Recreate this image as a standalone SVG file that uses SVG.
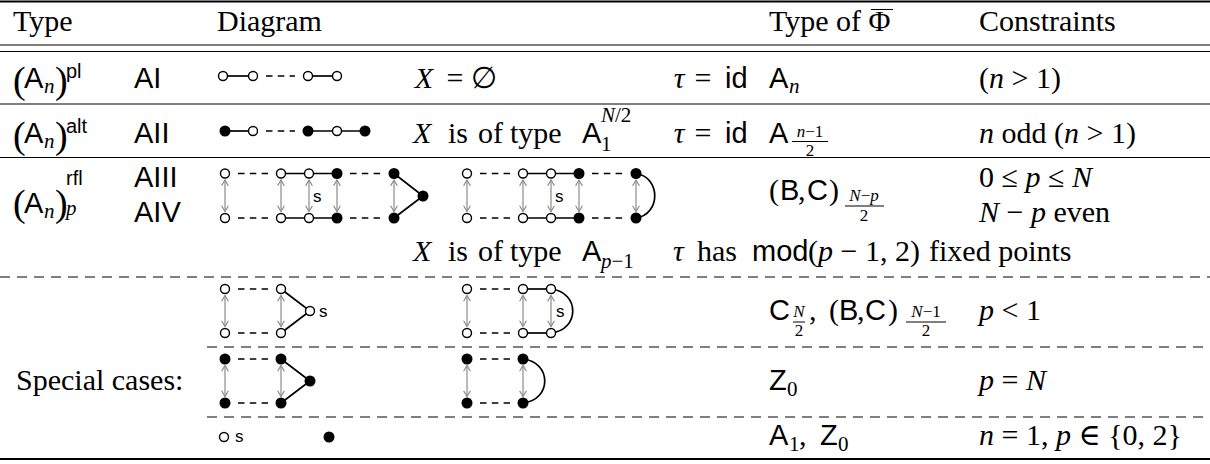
<svg xmlns="http://www.w3.org/2000/svg" width="1210" height="464" viewBox="0 0 1210 464">
<defs>
<marker id="ah" markerUnits="userSpaceOnUse" viewBox="0 0 7 8" refX="6.4" refY="4" markerWidth="7" markerHeight="8" orient="auto-start-reverse"><path d="M0.6,0.6 L6.4,4 L0.6,7.4" fill="none" stroke="#8c8c8c" stroke-width="1.2"/></marker>
<style>
.rm{font-family:"Liberation Serif","DejaVu Serif",serif;font-size:30px;fill:#000}
.i{font-style:italic}
.sf{font-family:"Liberation Sans",sans-serif;font-size:29px;fill:#000}
.big{font-family:"Liberation Serif",serif;font-size:38px;fill:#000}
.sup{font-family:"Liberation Sans",sans-serif;font-size:20px;fill:#000}
.sub{font-family:"Liberation Serif",serif;font-size:21px;fill:#000}
.fr{font-family:"Liberation Serif",serif;font-size:17px;text-anchor:middle;fill:#000}
.lb{font-family:"Liberation Sans",sans-serif;font-size:17px;fill:#000}
.mid{text-anchor:middle}
.rule{stroke:#000;stroke-width:1.2;fill:none}
.thick{stroke:#000;stroke-width:1.8;fill:none}
.hd{stroke:#000;stroke-width:1.2;stroke-dasharray:10 7;fill:none}
.fb{stroke:#000;stroke-width:1}
.e{stroke:#000;stroke-width:1.7;fill:none}
.d{stroke:#000;stroke-width:1.7;stroke-dasharray:6.5 5.3;fill:none}
.a{stroke:#8c8c8c;stroke-width:1.2;marker-start:url(#ah);marker-end:url(#ah)}
.o{fill:#fff;stroke:#000;stroke-width:1.4}
.f{fill:#000;stroke:none}
</style>
</defs>
<rect width="1210" height="464" fill="#fff"/>

<g id="rules">
<line class="thick" x1="0" y1="1.5" x2="1210" y2="1.5"/>
<line class="rule" x1="0" y1="45" x2="1210" y2="45"/>
<line class="rule" x1="0" y1="51.5" x2="1210" y2="51.5"/>
<line class="rule" x1="0" y1="104" x2="1210" y2="104"/>
<line class="rule" x1="0" y1="157.5" x2="1210" y2="157.5"/>
<line class="hd" x1="0" y1="277" x2="1210" y2="277"/>
<line class="hd" x1="207" y1="347" x2="1210" y2="347"/>
<line class="hd" x1="207" y1="417" x2="1210" y2="417"/>
<line class="thick" x1="0" y1="459" x2="1210" y2="459"/>
</g>

<g id="header">
<text class="rm" x="13" y="31">Type</text>
<text class="rm" x="217" y="31">Diagram</text>
<text class="rm" x="769" y="31">Type of Φ</text>
<line class="fb" x1="871" y1="9.5" x2="893" y2="9.5" stroke-width="1.3"/>
<text class="rm" x="979" y="31">Constraints</text>
</g>

<g id="row1">
<text class="big" x="13" y="93">(</text>
<text class="sf" x="24" y="88">A</text>
<text class="sub i" x="44" y="93">n</text>
<text class="big" x="55" y="93">)</text>
<text class="sup" x="66" y="78">pl</text>
<text class="sf" x="134" y="88">AI</text>
<text class="rm i mid" x="424" y="88">X</text>
<text class="rm mid" x="455" y="88">=</text>
<text class="rm mid" x="484" y="88">∅</text>
<text class="rm i mid" x="679" y="88">τ</text>
<text class="rm mid" x="703" y="88">=</text>
<text class="sf" x="725" y="88">id</text>
<text class="sf" x="769" y="88">A</text>
<text class="sub i" x="789" y="93">n</text>
<text class="rm" x="979" y="88">(<tspan class="i">n</tspan> &gt; 1)</text>
</g>

<g id="row2">
<text class="big" x="13" y="148">(</text>
<text class="sf" x="24" y="143">A</text>
<text class="sub i" x="44" y="148">n</text>
<text class="big" x="55" y="148">)</text>
<text class="sup" x="66" y="133">alt</text>
<text class="sf" x="134" y="143">AII</text>
<text class="rm" y="143"><tspan class="i" x="413">X</tspan><tspan x="448">is</tspan><tspan x="478">of</tspan><tspan x="510">type</tspan></text>
<text class="sf" x="582" y="143">A</text>
<text class="sub" x="601" y="151">1</text>
<text class="sub" x="601" y="122"><tspan class="i">N</tspan>/2</text>
<text class="rm i mid" x="679" y="143">τ</text>
<text class="rm mid" x="703" y="143">=</text>
<text class="sf" x="725" y="143">id</text>
<text class="sf" x="769" y="143">A</text>
<text class="fr" x="810" y="137"><tspan class="i">n</tspan>−1</text>
<line class="fb" x1="792" y1="141.5" x2="828" y2="141.5"/>
<text class="fr" x="810" y="156">2</text>
<text class="rm" x="979" y="143"><tspan class="i">n</tspan> odd (<tspan class="i">n</tspan> &gt; 1)</text>
</g>

<g id="row3">
<text class="big" x="13" y="216">(</text>
<text class="sf" x="24" y="213">A</text>
<text class="sub i" x="44" y="218">n</text>
<text class="big" x="55" y="216">)</text>
<text class="sup" x="66" y="185">rfl</text>
<text class="sub i" x="66" y="215">p</text>
<text class="sf" x="134" y="187">AIII</text>
<text class="sf" x="134" y="222">AIV</text>
<text class="rm" x="769" y="200">(</text>
<text class="sf" x="780" y="200">B</text>
<text class="rm" x="798" y="200">,</text>
<text class="sf" x="807" y="200">C</text>
<text class="rm" x="829" y="200">)</text>
<text class="fr" x="864" y="201"><tspan class="i">N</tspan>−<tspan class="i">p</tspan></text>
<line class="fb" x1="845" y1="206" x2="884" y2="206"/>
<text class="fr" x="864" y="221">2</text>
<text class="rm" x="979" y="187">0 ≤ <tspan class="i">p</tspan> ≤ <tspan class="i">N</tspan></text>
<text class="rm" x="979" y="222"><tspan class="i">N</tspan> − <tspan class="i">p</tspan> even</text>
<text class="rm" y="261"><tspan class="i" x="413">X</tspan><tspan x="448">is</tspan><tspan x="478">of</tspan><tspan x="510">type</tspan></text>
<text class="sf" x="582" y="261">A</text>
<text class="sub" x="601" y="268"><tspan class="i">p</tspan>−1</text>
<text class="rm" y="261"><tspan class="i" x="673">τ</tspan><tspan x="697">has</tspan></text>
<text class="sf" x="752" y="261">mod</text>
<text class="rm" x="808" y="261">(<tspan class="i">p</tspan> − 1, 2)</text>
<text class="rm" x="929" y="261">fixed points</text>
</g>

<g id="special">
<text class="rm" x="16" y="390">Special cases:</text>
<text class="sf" x="769" y="320">C</text>
<text class="fr" x="799" y="317" font-style="italic">N</text>
<line class="fb" x1="793" y1="322" x2="805" y2="322"/>
<text class="fr" x="799" y="336">2</text>
<text class="rm" x="809" y="320">,</text>
<text class="rm" x="829" y="320">(</text>
<text class="sf" x="839" y="320">B</text>
<text class="rm" x="857" y="320">,</text>
<text class="sf" x="865" y="320">C</text>
<text class="rm" x="888" y="320">)</text>
<text class="fr" x="926" y="317"><tspan class="i">N</tspan>−1</text>
<line class="fb" x1="906" y1="322" x2="946" y2="322"/>
<text class="fr" x="926" y="336">2</text>
<text class="rm" x="979" y="320"><tspan class="i">p</tspan> &lt; 1</text>
<text class="sf" x="769" y="390">Z</text>
<text class="sub" x="787" y="396">0</text>
<text class="rm" x="979" y="390"><tspan class="i">p</tspan> = <tspan class="i">N</tspan></text>
<text class="sf" x="769" y="445">A</text>
<text class="sub" x="789" y="451">1</text>
<text class="rm" x="799" y="445">,</text>
<text class="sf" x="820" y="445">Z</text>
<text class="sub" x="838" y="451">0</text>
<text class="rm" x="979" y="445"><tspan class="i">n</tspan> = 1, <tspan class="i">p</tspan> ∈ {0, 2}</text>
</g>

<g id="connectors">
<line class="e" x1="223" y1="76" x2="253" y2="76"/>
<line class="e" x1="308" y1="76" x2="337" y2="76"/>
<line class="d" x1="266" y1="76" x2="295" y2="76"/>
<line class="e" x1="225" y1="131" x2="253" y2="131"/>
<line class="e" x1="308" y1="131" x2="365" y2="131"/>
<line class="d" x1="266" y1="131" x2="295" y2="131"/>

<line class="d" x1="238" y1="173.5" x2="268" y2="173.5"/>
<line class="e" x1="281" y1="173.5" x2="337" y2="173.5"/>
<line class="d" x1="350" y1="173.5" x2="381" y2="173.5"/>
<polyline class="e" points="394,173.5 423,196 394,218"/>
<line class="d" x1="238" y1="218" x2="268" y2="218"/>
<line class="e" x1="281" y1="218" x2="337" y2="218"/>
<line class="d" x1="350" y1="218" x2="381" y2="218"/>
<line class="a" x1="225" y1="180" x2="225" y2="211.5"/>
<line class="a" x1="281" y1="180" x2="281" y2="211.5"/>
<line class="a" x1="309" y1="180" x2="309" y2="211.5"/>
<line class="a" x1="337" y1="180" x2="337" y2="211.5"/>
<line class="a" x1="394" y1="180" x2="394" y2="211.5"/>

<line class="d" x1="480" y1="173.5" x2="510" y2="173.5"/>
<line class="e" x1="523" y1="173.5" x2="579" y2="173.5"/>
<line class="d" x1="592" y1="173.5" x2="623" y2="173.5"/>
<line class="d" x1="480" y1="218" x2="510" y2="218"/>
<line class="e" x1="523" y1="218" x2="579" y2="218"/>
<line class="d" x1="592" y1="218" x2="623" y2="218"/>
<path class="e" d="M636,173.5 C661,177 661,214.5 636,218"/>
<line class="a" x1="467" y1="180" x2="467" y2="211.5"/>
<line class="a" x1="523" y1="180" x2="523" y2="211.5"/>
<line class="a" x1="551" y1="180" x2="551" y2="211.5"/>
<line class="a" x1="579" y1="180" x2="579" y2="211.5"/>
<line class="a" x1="636" y1="180" x2="636" y2="211.5"/>

<line class="d" x1="238" y1="289" x2="268" y2="289"/>
<line class="d" x1="238" y1="333" x2="268" y2="333"/>
<polyline class="e" points="281,289 310,311 281,333"/>
<line class="a" x1="225" y1="295.5" x2="225" y2="326.5"/>
<line class="a" x1="281" y1="295.5" x2="281" y2="326.5"/>
<line class="d" x1="480" y1="289" x2="510" y2="289"/>
<line class="d" x1="480" y1="333" x2="510" y2="333"/>
<line class="e" x1="523" y1="289" x2="551" y2="289"/>
<line class="e" x1="523" y1="333" x2="551" y2="333"/>
<path class="e" d="M551,289 C580,292 580,330 551,333"/>
<line class="a" x1="467" y1="295.5" x2="467" y2="326.5"/>
<line class="a" x1="523" y1="295.5" x2="523" y2="326.5"/>
<line class="a" x1="551" y1="295.5" x2="551" y2="326.5"/>

<line class="d" x1="238" y1="359" x2="268" y2="359"/>
<line class="d" x1="238" y1="403" x2="268" y2="403"/>
<polyline class="e" points="281,359 310,381 281,403"/>
<line class="a" x1="225" y1="365.5" x2="225" y2="396.5"/>
<line class="a" x1="281" y1="365.5" x2="281" y2="396.5"/>
<line class="d" x1="480" y1="359" x2="510" y2="359"/>
<line class="d" x1="480" y1="403" x2="510" y2="403"/>
<path class="e" d="M523,359 C552,362 552,400 523,403"/>
<line class="a" x1="467" y1="365.5" x2="467" y2="396.5"/>
<line class="a" x1="523" y1="365.5" x2="523" y2="396.5"/>
</g>

<g id="labels">
<text class="lb" x="313" y="202">s</text>
<text class="lb" x="555" y="202">s</text>
<text class="lb" x="319" y="317">s</text>
<text class="lb" x="556" y="317">s</text>
<text class="lb" x="235" y="442">s</text>
</g>

<g id="r1-nodes">
<g id="r1n1"><circle class="o" cx="223" cy="76" r="4.5"/></g>
<g id="r1n2"><circle class="o" cx="253" cy="76" r="4.5"/></g>
<g id="r1n3"><circle class="o" cx="308" cy="76" r="4.5"/></g>
<g id="r1n4"><circle class="o" cx="337" cy="76" r="4.5"/></g>
</g>
<g id="r2-nodes">
<g id="r2n1"><circle class="f" cx="225" cy="131" r="5.5"/></g>
<g id="r2n2"><circle class="o" cx="253" cy="131" r="4.5"/></g>
<g id="r2n3"><circle class="f" cx="308" cy="131" r="5.5"/></g>
<g id="r2n4"><circle class="o" cx="337" cy="131" r="4.5"/></g>
<g id="r2n5"><circle class="f" cx="365" cy="131" r="5.5"/></g>
</g>
<g id="r3a-nodes">
<g id="r3a1"><circle class="o" cx="225" cy="173.5" r="4.5"/></g>
<g id="r3a2"><circle class="o" cx="281" cy="173.5" r="4.5"/></g>
<g id="r3a3"><circle class="o" cx="309" cy="173.5" r="4.5"/></g>
<g id="r3a4"><circle class="f" cx="337" cy="173.5" r="5.5"/></g>
<g id="r3a5"><circle class="f" cx="394" cy="173.5" r="5.5"/></g>
<g id="r3a6"><circle class="o" cx="225" cy="218" r="4.5"/></g>
<g id="r3a7"><circle class="o" cx="281" cy="218" r="4.5"/></g>
<g id="r3a8"><circle class="o" cx="309" cy="218" r="4.5"/></g>
<g id="r3a9"><circle class="f" cx="337" cy="218" r="5.5"/></g>
<g id="r3a10"><circle class="f" cx="394" cy="218" r="5.5"/></g>
<g id="r3a11"><circle class="f" cx="423" cy="196" r="5.5"/></g>
</g>
<g id="r3b-nodes">
<g id="r3b1"><circle class="o" cx="467" cy="173.5" r="4.5"/></g>
<g id="r3b2"><circle class="o" cx="523" cy="173.5" r="4.5"/></g>
<g id="r3b3"><circle class="o" cx="551" cy="173.5" r="4.5"/></g>
<g id="r3b4"><circle class="f" cx="579" cy="173.5" r="5.5"/></g>
<g id="r3b5"><circle class="f" cx="636" cy="173.5" r="5.5"/></g>
<g id="r3b6"><circle class="o" cx="467" cy="218" r="4.5"/></g>
<g id="r3b7"><circle class="o" cx="523" cy="218" r="4.5"/></g>
<g id="r3b8"><circle class="o" cx="551" cy="218" r="4.5"/></g>
<g id="r3b9"><circle class="f" cx="579" cy="218" r="5.5"/></g>
<g id="r3b10"><circle class="f" cx="636" cy="218" r="5.5"/></g>
</g>
<g id="sa-nodes">
<g id="sa1"><circle class="o" cx="225" cy="289" r="4.5"/></g>
<g id="sa2"><circle class="o" cx="281" cy="289" r="4.5"/></g>
<g id="sa3"><circle class="o" cx="225" cy="333" r="4.5"/></g>
<g id="sa4"><circle class="o" cx="281" cy="333" r="4.5"/></g>
<g id="sa5"><circle class="o" cx="310" cy="311" r="4.5"/></g>
<g id="sa6"><circle class="o" cx="467" cy="289" r="4.5"/></g>
<g id="sa7"><circle class="o" cx="523" cy="289" r="4.5"/></g>
<g id="sa8"><circle class="o" cx="551" cy="289" r="4.5"/></g>
<g id="sa9"><circle class="o" cx="467" cy="333" r="4.5"/></g>
<g id="sa10"><circle class="o" cx="523" cy="333" r="4.5"/></g>
<g id="sa11"><circle class="o" cx="551" cy="333" r="4.5"/></g>
</g>
<g id="sb-nodes">
<g id="sb1"><circle class="f" cx="225" cy="359" r="5.5"/></g>
<g id="sb2"><circle class="f" cx="281" cy="359" r="5.5"/></g>
<g id="sb3"><circle class="f" cx="225" cy="403" r="5.5"/></g>
<g id="sb4"><circle class="f" cx="281" cy="403" r="5.5"/></g>
<g id="sb5"><circle class="f" cx="310" cy="381" r="5.5"/></g>
<g id="sb6"><circle class="f" cx="467" cy="359" r="5.5"/></g>
<g id="sb7"><circle class="f" cx="523" cy="359" r="5.5"/></g>
<g id="sb8"><circle class="f" cx="467" cy="403" r="5.5"/></g>
<g id="sb9"><circle class="f" cx="523" cy="403" r="5.5"/></g>
</g>
<g id="sc-nodes">
<g id="sc1"><circle class="o" cx="224" cy="437" r="4.5"/></g>
<g id="sc2"><circle class="f" cx="329" cy="437" r="5.5"/></g>
</g>
</svg>
